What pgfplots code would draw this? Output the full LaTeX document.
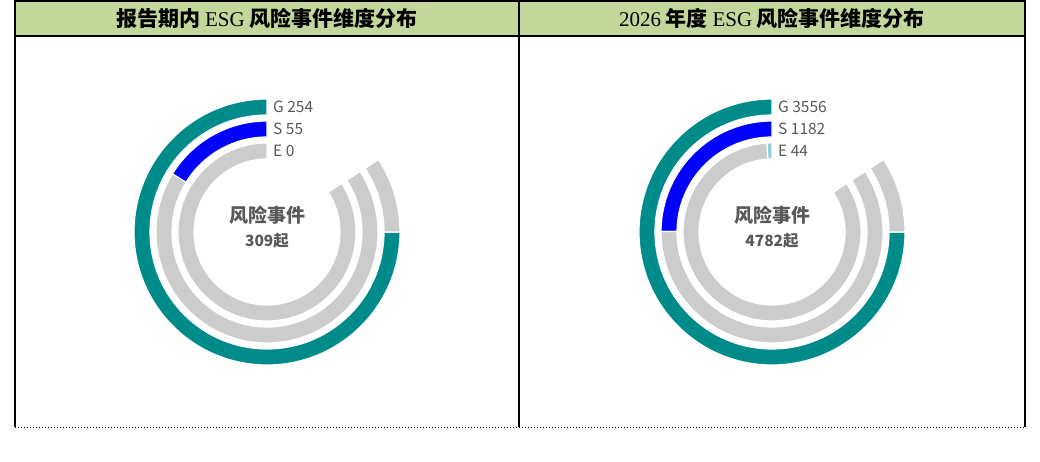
\documentclass[border=0pt]{standalone}
\usepackage{fontspec}
\usepackage{pgfplots}
\usepackage{pgfplotstable}
\pgfplotsset{compat=1.18}
\setmainfont{Noto Sans CJK SC}
\newfontfamily\cjk{Noto Sans CJK SC}
\newfontfamily\serif{Liberation Serif}

\definecolor{hdr}{HTML}{C4D79B}
\definecolor{ringG}{HTML}{008B8B}
\definecolor{ringS}{HTML}{0000FF}
\definecolor{ringE}{HTML}{92CDDC}
\definecolor{track}{HTML}{CCCCCC}
\definecolor{lbl}{HTML}{595959}

% one row per ring: ring/mid radius (pt)/value
\pgfplotstableread{
x y info
0 0 G/125/254
0 0 S/103/55
0 0 E/81/0
}\reportdata
\pgfplotstableread{
x y info
0 0 G/125/3556
0 0 S/103/1182
0 0 E/81/44
}\yeardata

% annular sector: mid radius, start angle, sweep, fill
\newcommand\sector[4]{%
  \pgfmathsetmacro\ro{#1+8}\pgfmathsetmacro\ri{#1-8}\pgfmathsetmacro\ea{#2+#3}%
  \filldraw[fill=#4, draw=white, line width=1.2pt]
    (#2:\ro pt) arc[start angle=#2, end angle=\ea, radius=\ro pt]
    -- (\ea:\ri pt) arc[start angle=\ea, end angle=#2, radius=\ri pt] -- cycle;}
\def\parseinfo#1/#2/#3\relax{\def\rn{#1}\def\rr{#2}\def\val{#3}}

\pgfplotsset{
  radial/.style={x=1pt, y=1pt, xmin=-140, xmax=140, ymin=-140, ymax=140,
    hide axis, clip=false, anchor=south west},
  % largest value takes 270 degrees, grey track runs 303 degrees
  ringplot/.style={scatter, only marks, mark=text, text mark={},
    point meta=explicit symbolic,
    scatter/@pre marker code/.code={%
      \expandafter\parseinfo\pgfplotspointmeta\relax
      \pgfmathsetmacro\sw{\val/#1*270}%
      \ifdim\sw pt>0pt \sector{\rr}{90}{\sw}{ring\rn}\fi
      \pgfmathsetmacro\gst{90+\sw}\pgfmathsetmacro\gsw{303-\sw}%
      \sector{\rr}{\gst}{\gsw}{track}%
      \node[anchor=west, text=lbl, inner sep=0pt,
        font=\fontsize{15.5}{15.5}\selectfont] at (6pt,\rr pt) {\rn\ \val};%
      \scope},
    scatter/@post marker code/.code={\endscope}},
}

\begin{document}
\begin{tikzpicture}[x=1pt, y=1pt]
\path[use as bounding box] (0,0) rectangle (1040,461);
\fill[hdr] (15,425) rectangle (1025,460);

\begin{axis}[radial, at={(127,89)}]
  \addplot[ringplot=254] table[x=x, y=y, meta=info] {\reportdata};
\end{axis}
\begin{axis}[radial, at={(632,89)}]
  \addplot[ringplot=3556] table[x=x, y=y, meta=info] {\yeardata};
\end{axis}

\node[font=\fontsize{21}{21}\selectfont] at (267,443)
  {{\cjk\bfseries 报告期内} {\serif ESG} {\cjk\bfseries 风险事件维度分布}};
\node[font=\fontsize{21}{21}\selectfont] at (772,443)
  {{\serif 2026} {\cjk\bfseries 年度} {\serif ESG} {\cjk\bfseries 风险事件维度分布}};

\node[text=lbl, font=\bfseries\fontsize{19}{19}\selectfont] at (267,246) {风险事件};
\node[text=lbl, font=\bfseries\fontsize{15.5}{15.5}\selectfont] at (267,220.5) {309起};
\node[text=lbl, font=\bfseries\fontsize{19}{19}\selectfont] at (772,246) {风险事件};
\node[text=lbl, font=\bfseries\fontsize{15.5}{15.5}\selectfont] at (772,220.5) {4782起};

\draw[line width=2pt] (14,460) -- (1026,460);
\draw[line width=2pt] (15,425) -- (1025,425);
\draw[line width=2pt] (15,461) -- (15,34);
\draw[line width=2pt] (519,461) -- (519,34);
\draw[line width=2pt] (1025,461) -- (1025,34);
\draw[line width=1pt, dotted] (15,34) -- (1025,34);
\end{tikzpicture}
\end{document}
